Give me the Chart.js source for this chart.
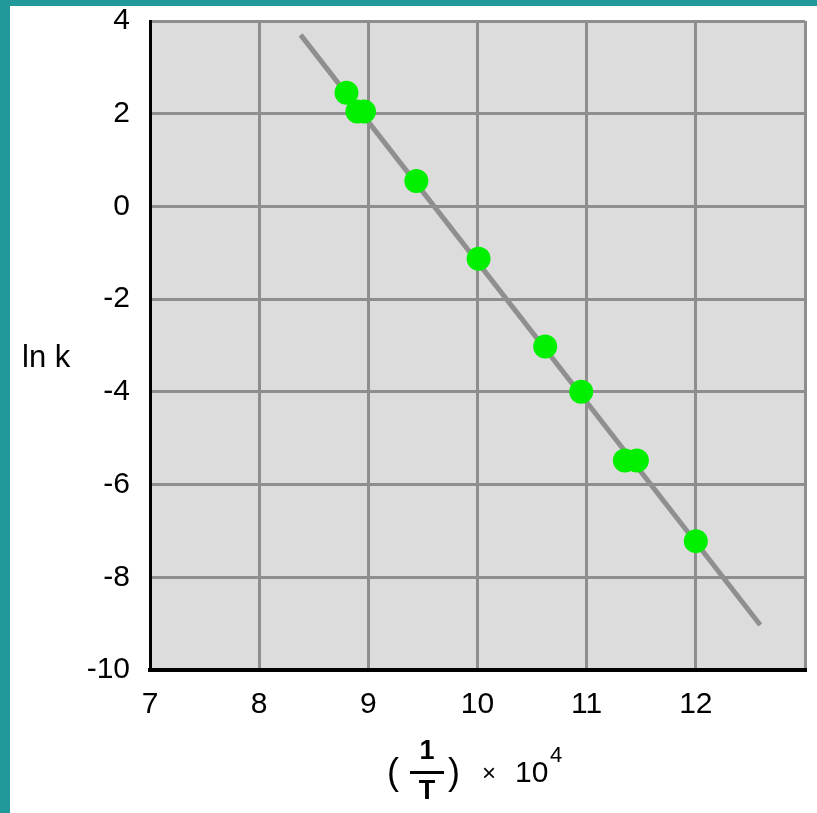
<!DOCTYPE html>
<html>
<head>
<meta charset="utf-8">
<script src="https://cdn.jsdelivr.net/npm/chart.js@4.4.1/dist/chart.umd.min.js"></script>
<style>
  html, body { margin: 0; padding: 0; }
  body { background: #21999b; width: 817px; height: 813px; overflow: hidden; position: relative; }
  #wrap { position: absolute; left: 10px; top: 6px; width: 807px; height: 807px; background: #ffffff; }
</style>
</head>
<body>
<div id="wrap"><canvas id="myChart"></canvas></div>
<script>
// measured points: 1/T (x 10^4) against ln k
const invT = [8.80, 8.90, 8.96, 9.44, 10.01, 10.62, 10.95, 11.35, 11.46, 12.00];
const lnK = [2.45, 2.05, 2.05, 0.55, -1.13, -3.02, -4.00, -5.48, -5.48, -7.22];

// straight-line fit through them
const fitX = [8.38, 12.59];
const fitY = [3.70, -9.03];

const xTicks = [7, 8, 9, 10, 11, 12];
const yTicks = [4, 2, 0, -2, -4, -6, -8, -10];

const FONT = '"Liberation Sans", Arial, sans-serif';
const gridGray = '#8e8e8e';

const plotBackground = {
  id: 'plotBackground',
  beforeDraw(chart) {
    const { ctx, chartArea } = chart;
    ctx.save();
    ctx.fillStyle = '#dcdcdc';
    ctx.fillRect(chartArea.left, chartArea.top, chartArea.right - chartArea.left, chartArea.bottom - chartArea.top);
    ctx.restore();
  }
};

// axis titles: "ln k" on the left, "(1/T) x 10^4" under the x axis
const axisTitles = {
  id: 'axisTitles',
  afterDraw(chart) {
    const ctx = chart.ctx;
    ctx.save();
    ctx.fillStyle = '#000000';
    ctx.textBaseline = 'middle';

    ctx.textAlign = 'left';
    ctx.font = '31px ' + FONT;
    ctx.fillText('ln k', 12, 352);

    ctx.textAlign = 'center';
    ctx.font = '36px ' + FONT;
    ctx.fillText('(', 383, 768);
    ctx.fillText(')', 444, 768);

    ctx.font = 'bold 27px ' + FONT;
    ctx.fillText('1', 417, 746);
    ctx.fillText('T', 417, 786);
    ctx.fillRect(400, 765, 34, 3);

    ctx.font = '24px ' + FONT;
    ctx.fillText('\u00d7', 479, 768);

    ctx.textAlign = 'left';
    ctx.font = '30px ' + FONT;
    ctx.fillText('10', 505, 768);
    ctx.font = '22px ' + FONT;
    ctx.fillText('4', 540, 750);
    ctx.restore();
  }
};

const ctx = document.getElementById('myChart').getContext('2d');
new Chart(ctx, {
  type: 'scatter',
  data: {
    datasets: [
      {
        label: 'ln k',
        data: invT.map((x, i) => ({ x: x, y: lnK[i] })),
        backgroundColor: '#00f000',
        borderColor: '#00f000',
        pointRadius: 12,
        pointHoverRadius: 12,
        borderWidth: 0,
        order: 0
      },
      {
        label: 'fit',
        data: fitX.map((x, i) => ({ x: x, y: fitY[i] })),
        showLine: true,
        borderColor: '#8f8f8f',
        borderWidth: 5,
        pointRadius: 0,
        order: 1
      }
    ]
  },
  options: {
    responsive: true,
    maintainAspectRatio: false,
    animation: false,
    layout: { padding: { top: 15, right: 10, left: 0, bottom: 0 } },
    plugins: {
      legend: { display: false },
      tooltip: { enabled: false }
    },
    scales: {
      x: {
        type: 'linear',
        min: 7,
        max: 13,
        afterBuildTicks(scale) {
          scale.ticks = xTicks.concat([13]).map(v => ({ value: v }));
        },
        afterFit(scale) {
          scale.height = 143;
          scale.paddingLeft = 0;
          scale.paddingRight = 0;
        },
        grid: { color: gridGray, lineWidth: 3, drawTicks: false },
        border: { color: '#000000', width: 4 },
        ticks: {
          padding: 17,
          color: '#000000',
          font: { family: FONT, size: 30 },
          callback: v => (xTicks.includes(v) ? String(v) : '')
        }
      },
      y: {
        type: 'linear',
        min: -10,
        max: 4,
        afterBuildTicks(scale) {
          scale.ticks = yTicks.map(v => ({ value: v }));
        },
        afterFit(scale) {
          scale.width = 140;
          scale.paddingTop = 0;
          scale.paddingBottom = 0;
        },
        grid: { color: gridGray, lineWidth: 3, drawTicks: false },
        border: { color: '#000000', width: 3 },
        ticks: {
          padding: 20,
          color: '#000000',
          font: { family: FONT, size: 30 },
          callback: v => String(v)
        }
      }
    }
  },
  plugins: [plotBackground, axisTitles]
});
</script>
</body>
</html>
